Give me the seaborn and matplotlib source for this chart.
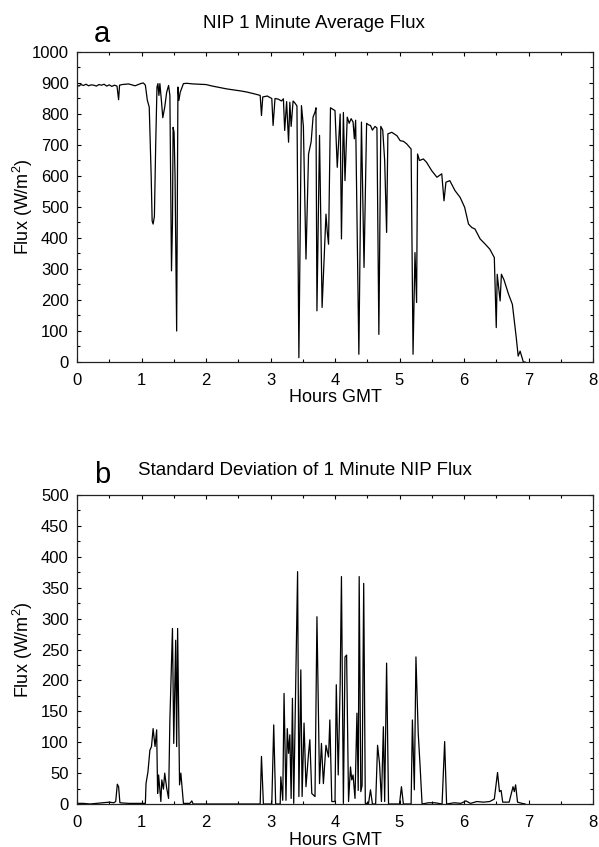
import numpy as np
import pandas as pd
import matplotlib
matplotlib.use("Agg")
import matplotlib.pyplot as plt
from matplotlib.ticker import MultipleLocator
import seaborn as sns

# ---- Panel a: NIP 1 minute average flux (W/m^2) ----
hours_a = [0.00, 0.03, 0.06, 0.10, 0.14, 0.18, 0.22, 0.26, 0.30, 0.34, 0.38, 0.42,
           0.46, 0.50, 0.54, 0.58, 0.62, 0.645, 0.66, 0.70, 0.75, 0.80, 0.85, 0.90,
           0.95, 1.00, 1.03, 1.06, 1.09, 1.12, 1.15, 1.165, 1.18, 1.20, 1.22, 1.24,
           1.255, 1.27, 1.285, 1.31, 1.33, 1.36, 1.39, 1.42, 1.44, 1.465, 1.48, 1.49,
           1.505, 1.52, 1.545, 1.565, 1.58, 1.60, 1.65, 1.70, 1.80, 1.90, 2.00, 2.10,
           2.20, 2.32, 2.45, 2.55, 2.63, 2.75, 2.84, 2.86, 2.88, 2.95, 3.02, 3.04,
           3.07, 3.12, 3.17, 3.20, 3.22, 3.25, 3.28, 3.30, 3.32, 3.35, 3.38, 3.41,
           3.44, 3.48, 3.51, 3.55, 3.59, 3.63, 3.66, 3.69, 3.705, 3.72, 3.76, 3.80,
           3.86, 3.88, 3.90, 3.93, 3.97, 4.00, 4.035, 4.08, 4.10, 4.13, 4.155, 4.19,
           4.22, 4.25, 4.28, 4.30, 4.32, 4.37, 4.41, 4.45, 4.49, 4.52, 4.55, 4.58,
           4.62, 4.65, 4.68, 4.71, 4.74, 4.77, 4.80, 4.82, 4.88, 4.96, 5.01, 5.06,
           5.11, 5.18, 5.21, 5.24, 5.265, 5.28, 5.31, 5.37, 5.42, 5.50, 5.58, 5.655,
           5.69, 5.72, 5.78, 5.86, 5.94, 6.01, 6.07, 6.12, 6.17, 6.25, 6.33, 6.40,
           6.47, 6.50, 6.515, 6.56, 6.58, 6.62, 6.69, 6.75, 6.81, 6.84, 6.87, 6.92,
           6.95]
flux_a = [893, 890, 895, 892, 896, 891, 894, 893, 890, 895, 893, 896,
          890, 894, 889, 893, 890, 846, 893, 895, 896, 897, 894, 891,
          895, 899, 900, 893, 845, 822, 600, 455, 445, 470, 700, 887,
          898, 860, 898, 840, 788, 822, 870, 892, 860, 294, 450, 757,
          740, 600, 100, 887, 844, 870, 898, 899, 897, 896, 895, 890,
          886, 881, 877, 874, 871, 865, 860, 795, 855, 858, 850, 763,
          850, 848, 842, 849, 747, 840, 709, 838, 760, 842, 835, 826,
          14, 827, 760, 332, 671, 710, 790, 806, 820, 165, 731, 176,
          477, 420, 380, 820, 815, 811, 628, 800, 397, 805, 585, 790,
          770, 785, 774, 720, 780, 25, 774, 305, 770, 765, 763, 748,
          760, 755, 89, 760, 748, 650, 418, 736, 741, 730, 714, 712,
          704, 687, 25, 353, 192, 671, 650, 655, 644, 617, 596, 607,
          520, 580, 585, 553, 531, 499, 445, 434, 429, 397, 380, 364,
          337, 111, 283, 197, 283, 265, 219, 186, 79, 19, 35, 0,
          0]

# ---- Panel b: standard deviation of 1 minute NIP flux (W/m^2) ----
hours_b = [0.00, 0.10, 0.20, 0.30, 0.40, 0.50, 0.57, 0.60, 0.625, 0.645, 0.665, 0.80,
           0.95, 1.06, 1.07, 1.10, 1.13, 1.155, 1.18, 1.21, 1.235, 1.25, 1.265, 1.30,
           1.315, 1.34, 1.36, 1.39, 1.42, 1.44, 1.48, 1.50, 1.53, 1.545, 1.56, 1.59,
           1.61, 1.65, 1.75, 1.78, 1.80, 2.00, 2.30, 2.60, 2.84, 2.86, 2.89, 3.02,
           3.05, 3.08, 3.15, 3.16, 3.19, 3.21, 3.24, 3.26, 3.28, 3.30, 3.32, 3.34,
           3.36, 3.42, 3.44, 3.47, 3.49, 3.52, 3.55, 3.59, 3.61, 3.64, 3.69, 3.72,
           3.76, 3.79, 3.82, 3.86, 3.90, 3.92, 3.95, 4.00, 4.02, 4.05, 4.08, 4.10,
           4.13, 4.155, 4.18, 4.21, 4.24, 4.26, 4.28, 4.31, 4.34, 4.36, 4.375, 4.40,
           4.42, 4.445, 4.47, 4.52, 4.55, 4.58, 4.63, 4.66, 4.69, 4.72, 4.75, 4.77,
           4.80, 4.83, 5.00, 5.03, 5.06, 5.18, 5.20, 5.23, 5.255, 5.29, 5.32, 5.35,
           5.45, 5.55, 5.66, 5.70, 5.73, 5.85, 5.95, 6.03, 6.10, 6.20, 6.30, 6.40,
           6.47, 6.52, 6.55, 6.575, 6.60, 6.70, 6.76, 6.78, 6.80, 6.83, 6.90, 6.95]
std_b = [1, 1, 0, 1, 2, 3, 2, 4, 32, 28, 2, 1,
         1, 1, 33, 52, 87, 93, 122, 93, 120, 17, 47, 4,
         39, 24, 50, 26, 9, 136, 284, 98, 265, 93, 284, 31,
         50, 1, 1, 5, 0, 0, 0, 0, 0, 77, 0, 0,
         128, 0, 0, 44, 6, 179, 6, 122, 82, 112, 9, 171,
         1, 376, 12, 217, 12, 131, 28, 82, 104, 17, 12, 303,
         33, 98, 33, 95, 76, 136, 4, 4, 193, 47, 195, 368,
         1, 238, 241, 4, 60, 39, 47, 9, 147, 22, 368, 20,
         30, 357, 1, 1, 23, 0, 0, 95, 66, 4, 125, 4,
         228, 0, 0, 28, 0, 0, 136, 23, 238, 115, 60, 0,
         2, 2, 0, 101, 0, 2, 1, 5, 1, 4, 3, 4,
         8, 51, 20, 22, 3, 3, 28, 20, 31, 3, 1, 0]

x_ticks = [0, 1, 2, 3, 4, 5, 6, 7, 8]
y_ticks_a = list(range(0, 1001, 100))
y_ticks_b = list(range(0, 501, 50))
title_a = "NIP 1 Minute Average Flux"
title_b = "Standard Deviation of 1 Minute NIP Flux"
x_label = "Hours GMT"
y_label = "Flux (W/m$^2$)"

sns.set_style("ticks")
plt.rcParams['font.family'] = ['Liberation Sans', 'DejaVu Sans']
plt.rcParams['mathtext.fontset'] = 'custom'
plt.rcParams['mathtext.rm'] = 'Liberation Sans'
plt.rcParams['mathtext.it'] = 'Liberation Sans'
for k in ['text.color', 'axes.labelcolor', 'xtick.color', 'ytick.color']:
    plt.rcParams[k] = 'black'

W, H = 599, 847
fig = plt.figure(figsize=(W / 100, H / 100), dpi=100)

def px_axes(left, top, right, bottom):
    return fig.add_axes([left / W, 1 - bottom / H, (right - left) / W, (bottom - top) / H])

ax_a = px_axes(77, 52, 593, 362)
ax_b = px_axes(77, 495, 593, 804)

df_a = pd.DataFrame({"hours": hours_a, "flux": flux_a})
df_b = pd.DataFrame({"hours": hours_b, "std": std_b})

sns.lineplot(data=df_a, x="hours", y="flux", ax=ax_a, color="black", lw=0.9,
             sort=False, estimator=None)
sns.lineplot(data=df_b, x="hours", y="std", ax=ax_b, color="black", lw=0.9,
             sort=False, estimator=None)

for ax, yt, ymax, yminor in [(ax_a, y_ticks_a, 1000, 50), (ax_b, y_ticks_b, 500, 25)]:
    ax.set_xlim(0, 8)
    ax.set_ylim(0, ymax)
    ax.set_xticks(x_ticks)
    ax.set_yticks(yt)
    ax.xaxis.set_minor_locator(MultipleLocator(0.5))
    ax.yaxis.set_minor_locator(MultipleLocator(yminor))
    ax.tick_params(which="both", direction="in", top=True, right=True,
                   labelsize=12, color="black", width=0.8)
    ax.tick_params(which="major", length=3)
    ax.tick_params(which="minor", length=2)
    ax.tick_params(axis="x", pad=8)
    ax.tick_params(axis="y", pad=6)
    for s in ax.spines.values():
        s.set_linewidth(0.9)
        s.set_color("#222222")
    ax.set_xlabel(x_label, fontsize=13, labelpad=1)
    ax.set_ylabel(y_label, fontsize=13)
    ax.yaxis.set_label_coords(-0.081, 0.5)

fig.text(203 / W, 1 - 28 / H, title_a, fontsize=13.5, ha="left", va="baseline")
fig.text(138 / W, 1 - 475 / H, title_b, fontsize=13.5, ha="left", va="baseline")
fig.text(94 / W, 1 - 42 / H, "a", fontsize=21, ha="left", va="baseline")
fig.text(94 / W, 1 - 483 / H, "b", fontsize=21, ha="left", va="baseline")

fig.savefig("out.png", dpi=100)
